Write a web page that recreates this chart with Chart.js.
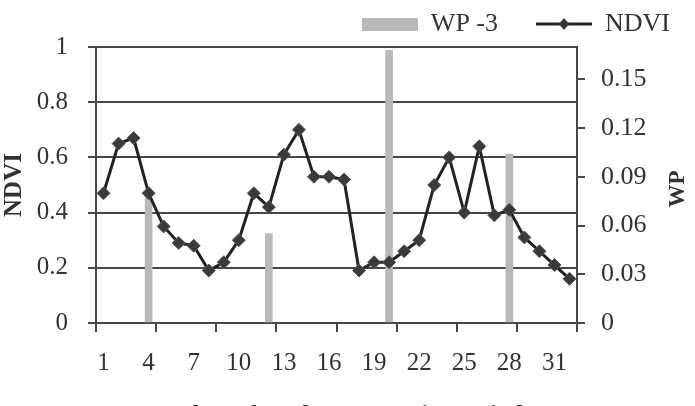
<html><head><meta charset="utf-8">
<script src="https://cdn.jsdelivr.net/npm/chart.js@4.4.0/dist/chart.umd.min.js"></script>
<style>
 html, body { margin:0; padding:0; background:#fff; overflow:hidden; height:406px; }
 #box { position:relative; width:695px; height:436px; }
 #warm { position:absolute; left:-999px; top:0; font-family:"Liberation Serif"; }
</style>
</head>
<body>
<div id="warm">NDVI <b>WP</b></div>
<div id="box"><canvas id="myChart"></canvas></div>
<script>
// 10-day periods
var days = ['1','2','3','4','5','6','7','8','9','10','11','12','13','14','15','16',
            '17','18','19','20','21','22','23','24','25','26','27','28','29','30','31','32'];
var shownDays = ['1','4','7','10','13','16','19','22','25','28','31'];

var ndvi = [0.47,0.65,0.67,0.47,0.35,0.29,0.28,0.19,0.22,0.30,0.47,0.42,0.61,0.70,0.53,0.53,
            0.52,0.19,0.22,0.22,0.26,0.30,0.50,0.60,0.40,0.64,0.39,0.41,0.31,0.26,0.21,0.16];

var wp = [null,null,null,0.077,null,null,null,null,null,null,null,0.055,null,null,null,null,
          null,null,null,0.168,null,null,null,null,null,null,null,0.104,null,null,null,null];

var ndviTicks = [0,0.2,0.4,0.6,0.8,1];
var wpTicks = [0,0.03,0.06,0.09,0.12,0.15];

var font = '"Liberation Serif"';
var gridCol = '#474747';

function swatch(kind) {
  var c = document.createElement('canvas');
  c.width = 92; c.height = 14;
  var g = c.getContext('2d');
  if (kind == 'bar') {
    g.fillStyle = '#b8b8b8';
    g.fillRect(36, 1, 56, 13);
  } else {
    g.strokeStyle = '#222';
    g.lineWidth = 3;
    g.beginPath(); g.moveTo(36, 7); g.lineTo(92, 7); g.stroke();
    g.fillStyle = '#333';
    g.beginPath(); g.moveTo(64, 1); g.lineTo(69, 7); g.lineTo(64, 13); g.lineTo(59, 7); g.closePath(); g.fill();
  }
  return c;
}

var wpTitle = {
  id: 'wpTitle',
  afterDraw: function(chart) {
    var ctx = chart.ctx, a = chart.chartArea;
    ctx.save();
    ctx.translate(a.right + 101, (a.top + a.bottom) / 2 + 4);
    ctx.rotate(-Math.PI / 2);
    ctx.font = 'bold 23px ' + font;
    ctx.fillStyle = '#333';
    ctx.textAlign = 'center';
    ctx.textBaseline = 'middle';
    ctx.fillText('WP', 0, 0);
    ctx.restore();
  }
};

function draw() {
  var ctx = document.getElementById('myChart');
  var myChart = new Chart(ctx, {
    type: 'bar',
    plugins: [wpTitle],
    data: {
      labels: days,
      datasets: [{
        type: 'bar',
        label: 'WP -3',
        data: wp,
        yAxisID: 'y1',
        backgroundColor: '#b8b8b8',
        barThickness: 7,
        order: 2
      }, {
        type: 'line',
        label: 'NDVI',
        data: ndvi,
        yAxisID: 'y',
        borderColor: '#222',
        borderWidth: 3,
        pointStyle: 'rectRot',
        pointRadius: 6.5,
        pointBackgroundColor: '#3a3a3a',
        pointBorderColor: '#555',
        pointBorderWidth: 1,
        tension: 0,
        order: 1
      }]
    },
    options: {
      responsive: true,
      maintainAspectRatio: false,
      animation: false,
      layout: { padding: { left: 0, right: 23, top: 0, bottom: 0 } },
      plugins: {
        tooltip: { enabled: false },
        legend: {
          position: 'top',
          align: 'end',
          labels: {
            usePointStyle: true,
            pointStyleWidth: 92,
            boxHeight: 14,
            padding: 2,
            color: '#333',
            font: { family: font, size: 26 },
            generateLabels: function(chart) {
              return [
                { text: 'WP -3', pointStyle: swatch('bar'), fillStyle: '#b8b8b8', strokeStyle: '#b8b8b8', lineWidth: 0, hidden: false, datasetIndex: 0, fontColor: '#333' },
                { text: 'NDVI', pointStyle: swatch('line'), fillStyle: '#333', strokeStyle: '#222', lineWidth: 0, hidden: false, datasetIndex: 1, fontColor: '#333' }
              ];
            }
          }
        }
      },
      scales: {
        x: {
          type: 'category',
          offset: true,
          afterFit: function(s) { s.height = 113; },
          grid: {
            offset: true,
            drawOnChartArea: false,
            tickLength: 9,
            lineWidth: 2,
            color: function(c) {
              return (c.index === undefined || c.index % 4 === 0) ? gridCol : 'rgba(0,0,0,0)';
            }
          },
          border: { color: gridCol, width: 2 },
          ticks: {
            autoSkip: false,
            maxRotation: 0,
            padding: 16,
            color: '#333',
            font: { family: font, size: 25 },
            callback: function(v, i) {
              var l = days[i];
              return shownDays.indexOf(l) >= 0 ? l : '';
            }
          },
          title: {
            display: true,
            text: 'Number of 10-day composite periods',
            color: '#333',
            font: { family: font, size: 25, weight: 'bold' },
            padding: { top: 0, bottom: 4 }
          }
        },
        y: {
          position: 'left',
          min: 0,
          max: 1,
          afterBuildTicks: function(s) { s.ticks = ndviTicks.map(function(v) { return { value: v }; }); },
          afterFit: function(s) { s.width = 96; s.paddingTop = 47; },
          grid: { color: gridCol, lineWidth: 2, tickLength: 8 },
          border: { color: gridCol, width: 2 },
          ticks: {
            padding: 20,
            color: '#333',
            font: { family: font, size: 25 },
            callback: function(v) { return String(v); }
          },
          title: {
            display: true,
            text: 'NDVI',
            color: '#333',
            font: { family: font, size: 25, weight: 'bold' },
            padding: { top: 0, bottom: 0 }
          }
        },
        y1: {
          position: 'right',
          min: 0,
          max: 0.17,
          afterBuildTicks: function(s) { s.ticks = wpTicks.map(function(v) { return { value: v }; }); },
          afterFit: function(s) { s.width = 95; },
          grid: { drawOnChartArea: false, color: gridCol, lineWidth: 2, tickLength: 8 },
          border: { color: gridCol, width: 2 },
          ticks: {
            padding: 16,
            color: '#333',
            font: { family: font, size: 26 },
            callback: function(v) { return String(v); }
          }
        }
      }
    }
  });
}

Promise.all([
  document.fonts.load('24px "Liberation Serif"'),
  document.fonts.load('bold 24px "Liberation Serif"')
]).then(draw, draw);
</script>
</body></html>
